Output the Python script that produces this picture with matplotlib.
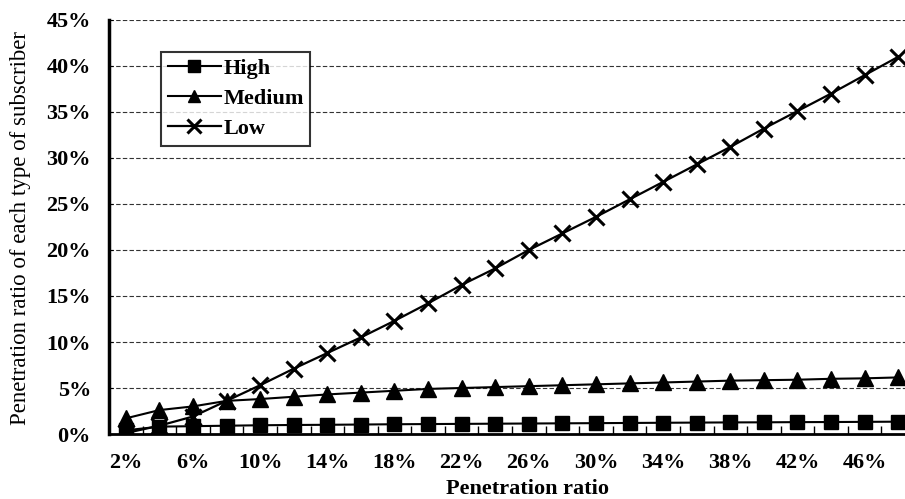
import matplotlib
matplotlib.use("Agg")
import matplotlib.pyplot as plt
import numpy as np

# Penetration ratio categories (percent)
penetration = [2, 4, 6, 8, 10, 12, 14, 16, 18, 20, 22, 24,
               26, 28, 30, 32, 34, 36, 38, 40, 42, 44, 46, 48]

# Share of each subscriber type (percent)
high = [0.4, 0.8, 0.85, 0.9, 0.95, 0.98, 1.0, 1.03, 1.06, 1.08, 1.1, 1.12,
        1.14, 1.16, 1.18, 1.2, 1.22, 1.24, 1.26, 1.27, 1.29, 1.3, 1.32, 1.34]
medium = [1.7, 2.6, 3.0, 3.6, 3.8, 4.05, 4.3, 4.5, 4.7, 4.9, 5.0, 5.1,
          5.2, 5.3, 5.4, 5.5, 5.6, 5.7, 5.8, 5.85, 5.9, 6.0, 6.05, 6.15]
low = [0.1, 0.9, 1.9, 3.6, 5.3, 7.1, 8.8, 10.5, 12.3, 14.2, 16.2, 18.0,
       20.0, 21.8, 23.6, 25.5, 27.4, 29.3, 31.2, 33.2, 35.1, 37.0, 39.0, 41.0]

y_ticks = [0, 5, 10, 15, 20, 25, 30, 35, 40, 45]

plt.rcParams['font.family'] = ['Liberation Serif', 'DejaVu Serif']

W, H = 905, 499
fig = plt.figure(figsize=(W / 100, H / 100), dpi=100)
left, right, top, bottom = 109, 915, 20, 434
ax = fig.add_axes([left / W, 1 - bottom / H, (right - left) / W, (bottom - top) / H])

idx = np.arange(len(penetration))
ax.plot(idx, high, color='black', lw=1.5, marker='s', ms=10, label='High', zorder=3)
ax.plot(idx, medium, color='black', lw=1.5, marker='^', ms=11, label='Medium', zorder=3)
ax.plot(idx, low, color='black', lw=1.6, marker='x', ms=12, mew=2.2, label='Low', zorder=3)

ax.set_xlim(-0.5, len(penetration) - 0.5)
ax.set_ylim(0, 45)

ax.set_yticks(y_ticks)
ax.set_yticklabels([f"{v}%" for v in y_ticks], fontsize=16, fontweight='bold')
ax.set_xticks(idx[::2])
ax.set_xticklabels([f"{p}%" for p in penetration[::2]], fontsize=16, fontweight='bold')
ax.set_xticks(idx[:-1] + 0.5, minor=True)
ax.tick_params(axis='x', which='major', length=0, pad=14)
ax.tick_params(axis='x', which='minor', direction='in', length=6, width=1)
ax.tick_params(axis='y', which='major', direction='in', length=3, pad=13)

for v in y_ticks[1:]:
    ax.axhline(v, color='#333333', lw=0.8, ls=(0, (4, 2)), zorder=1)

for s in ['top', 'right']:
    ax.spines[s].set_visible(False)
ax.spines['left'].set_linewidth(2.5)
ax.spines['bottom'].set_linewidth(2.0)

fig.text(527 / W, 1 - 489 / H, "Penetration ratio", fontsize=16, fontweight='bold',
         ha='center', va='center')
fig.text(21 / W, 1 - 228 / H, "Penetration ratio of each type of subscriber",
         fontsize=16.5, rotation=90, ha='center', va='center')

leg = ax.legend(loc='upper left', bbox_to_anchor=(52 / 806, 1 - 32 / 414), fontsize=16,
                frameon=True, fancybox=False, handlelength=2.4, handletextpad=0.1,
                borderpad=0.3, labelspacing=0.42, borderaxespad=0, markerscale=0.8)
leg.get_frame().set_edgecolor('black')
leg.get_frame().set_linewidth(1.5)
for t in leg.get_texts():
    t.set_fontweight('bold')

fig.savefig("out.png", dpi=100)
